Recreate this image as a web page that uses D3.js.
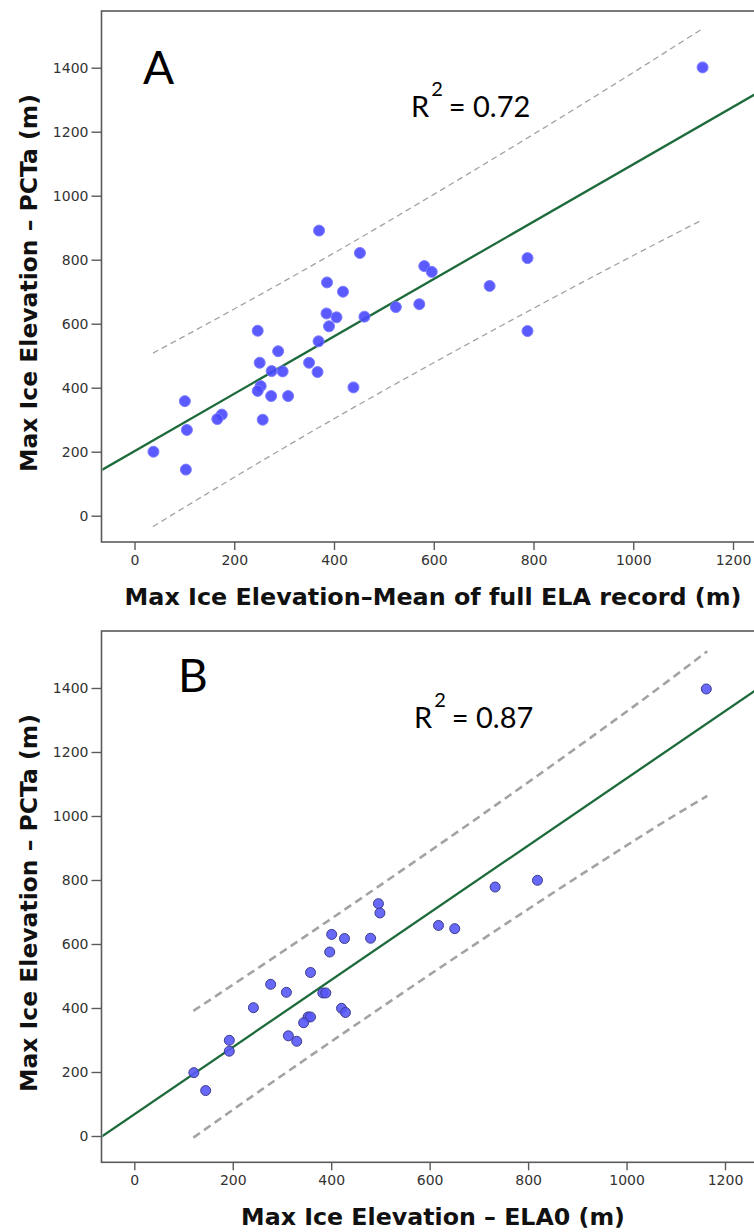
<!DOCTYPE html>
<html><head><meta charset="utf-8">
<script src="https://cdn.jsdelivr.net/npm/d3@7/dist/d3.min.js"></script>
<style>body{margin:0;background:#fff}svg{display:block}</style>
</head><body>
<svg id="chart" width="754" height="1232"></svg>
<script>
// ---------- data ----------
const xTickValues = [0, 200, 400, 600, 800, 1000, 1200];
const yTickValues = [0, 200, 400, 600, 800, 1000, 1200, 1400];

// Panel A: Max Ice Elevation - Mean of full ELA record (x) vs Max Ice Elevation - PCTa (y)
const aX = [370, 452, 581, 596, 386, 418, 712, 524, 571, 385, 405, 461, 390, 247, 369, 288, 251, 350,
            275, 297, 367, 253, 247, 274, 308, 439, 101, 175, 166, 257, 105, 38, 103, 1139, 788, 788];
const aY = [891, 821, 780, 762, 729, 700, 718, 652, 661, 632, 620, 622, 592, 578, 545, 514, 478, 478,
            452, 451, 449, 405, 390, 374, 374, 401, 358, 316, 302, 300, 268, 200, 144, 1401, 805, 577];
const aFitX = [-70, 1260];
const aFitY = [139, 1331];
const aBandX = [37, 200, 400, 600, 800, 1000, 1139];
const aUpperY = [508, 646, 821, 1004, 1192, 1385, 1522];
const aLowerY = [-34, 120, 303, 478, 648, 813, 925];

// Panel B: Max Ice Elevation - ELA0 (x) vs Max Ice Elevation - PCTa (y)
const bX = [819, 733, 496, 499, 618, 651, 401, 427, 480, 397, 358, 277, 309, 383, 389, 242, 421, 429,
            353, 358, 344, 313, 330, 193, 193, 121, 145, 1162];
const bY = [799, 778, 726, 697, 658, 648, 630, 617, 618, 575, 511, 474, 449, 447, 447, 401, 399, 386,
            372, 372, 354, 313, 296, 299, 265, 198, 142, 1397];
const bFitX = [-70, 1270];
const bFitY = [-6, 1401];
const bBandX = [120, 300, 500, 700, 900, 1100, 1164];
const bUpperY = [391, 575, 784, 997, 1215, 1440, 1515];
const bLowerY = [-5, 189, 400, 607, 809, 1004, 1063];

const panels = [
  {letter: "A", r2: "0.72", xTitle: "Max Ice Elevation\u2013Mean of full ELA record (m)",
   yTitle: "Max Ice Elevation \u2013 PCTa (m)",
   xs: aX, ys: aY, fitX: aFitX, fitY: aFitY, bandX: aBandX, up: aUpperY, lo: aLowerY,
   top: 11, bottom: 542, x0: 134.5, x1200: 733, y0: 515.7, y1400: 67.7,
   xTitleW: 617, letterPos: [143, 84], r2Pos: [411, 117],
   dotFill: "#4848ff", dotStroke: "#7d7dff", dotR: 5.5, dashW: 1.3, dash: "6,4"},
  {letter: "B", r2: "0.87", xTitle: "Max Ice Elevation \u2013 ELA0 (m)",
   yTitle: "Max Ice Elevation \u2013 PCTa (m)",
   xs: bX, ys: bY, fitX: bFitX, fitY: bFitY, bandX: bBandX, up: bUpperY, lo: bLowerY,
   top: 631, bottom: 1162.3, x0: 134.3, x1200: 725, y0: 1136, y1400: 688,
   xTitleW: 384, letterPos: [178, 692], r2Pos: [414, 728],
   dotFill: "#5858f8", dotStroke: "#3c3c8c", dotR: 5, dashW: 2.6, dash: "8,5"}
];

const svg = d3.select("#chart");
svg.append("rect").attr("width", 754).attr("height", 1232).attr("fill", "#fff");

const frameLeft = 101.5, frameRight = 900;
const axisColor = "#5a5a5a";

panels.forEach(p => {
  const x = d3.scaleLinear().domain([0, 1200]).range([p.x0, p.x1200]);
  const y = d3.scaleLinear().domain([0, 1400]).range([p.y0, p.y1400]);
  const g = svg.append("g");

  // frame
  g.append("rect").attr("x", frameLeft).attr("y", p.top)
    .attr("width", frameRight - frameLeft).attr("height", p.bottom - p.top)
    .attr("fill", "none").attr("stroke", axisColor).attr("stroke-width", 1.6);

  // axes
  const yAxis = d3.axisLeft(y).tickValues(yTickValues).tickSize(10).tickPadding(3).tickFormat(d3.format("d"));
  const gy = g.append("g").attr("transform", `translate(${frameLeft},0)`).call(yAxis);
  const xAxis = d3.axisBottom(x).tickValues(xTickValues).tickSize(8).tickPadding(5).tickFormat(d3.format("d"));
  const gx = g.append("g").attr("transform", `translate(0,${p.bottom})`).call(xAxis);
  [gx, gy].forEach(a => {
    a.select(".domain").remove();
    a.selectAll(".tick line").attr("stroke", axisColor).attr("stroke-width", 1.4);
    a.selectAll(".tick text").attr("fill", "#333").style("font-family", "DejaVu Sans, sans-serif").style("font-size", "14px");
  });

  // clip for plot area
  const clipId = "clip" + p.letter;
  svg.append("clipPath").attr("id", clipId).append("rect")
    .attr("x", frameLeft + 1).attr("y", p.top + 1).attr("width", frameRight - frameLeft).attr("height", p.bottom - p.top - 2);
  const plot = g.append("g").attr("clip-path", `url(#${clipId})`);

  const line = d3.line().x(d => x(d[0])).y(d => y(d[1])).curve(d3.curveMonotoneX);
  // prediction bands
  [p.up, p.lo].forEach(arr => {
    plot.append("path").datum(p.bandX.map((v, i) => [v, arr[i]])).attr("d", line)
      .attr("fill", "none").attr("stroke", "#a3a3a3").attr("stroke-width", p.dashW).attr("stroke-dasharray", p.dash);
  });
  // fit line
  plot.append("path").datum(p.fitX.map((v, i) => [v, p.fitY[i]])).attr("d", d3.line().x(d => x(d[0])).y(d => y(d[1])))
    .attr("fill", "none").attr("stroke", "#1d6a3a").attr("stroke-width", 2.3);
  // points
  plot.selectAll("circle").data(p.xs.map((v, i) => [v, p.ys[i]])).enter().append("circle")
    .attr("cx", d => x(d[0])).attr("cy", d => y(d[1])).attr("r", p.dotR)
    .attr("fill", p.dotFill).attr("fill-opacity", 0.9).attr("stroke", p.dotStroke).attr("stroke-width", 1);

  // panel letter
  g.append("text").attr("x", p.letterPos[0]).attr("y", p.letterPos[1]).text(p.letter)
    .style("font-family", "Lato, sans-serif").style("font-size", "46px").attr("fill", "#000");
  // R^2
  const t = g.append("text").attr("x", p.r2Pos[0]).attr("y", p.r2Pos[1])
    .style("font-family", "Lato, sans-serif").style("font-size", "29px").attr("fill", "#000");
  t.append("tspan").text("R");
  t.append("tspan").attr("dy", -21).attr("dx", 2).style("font-size", "20px").text("2");
  t.append("tspan").attr("dy", 21).attr("dx", 6).text("= " + p.r2);

  // x title
  const xt = g.append("text").attr("x", 433).attr("y", p.bottom + 63).attr("text-anchor", "middle")
    .style("font-family", "DejaVu Sans, sans-serif").style("font-weight", "bold").style("font-size", "20px")
    .attr("fill", "#111").text(p.xTitle);
  const w = xt.node().getComputedTextLength();
  xt.style("font-size", (20 * p.xTitleW / w).toFixed(2) + "px");
  // y title
  const cy = p.top + 272;
  const yt = g.append("text").attr("transform", `translate(37,${cy}) rotate(-90)`).attr("text-anchor", "middle")
    .style("font-family", "DejaVu Sans, sans-serif").style("font-weight", "bold").style("font-size", "20px")
    .attr("fill", "#111").text(p.yTitle);
  const wy = yt.node().getComputedTextLength();
  yt.style("font-size", (20 * 378 / wy).toFixed(2) + "px");
});
</script>
</body></html>
